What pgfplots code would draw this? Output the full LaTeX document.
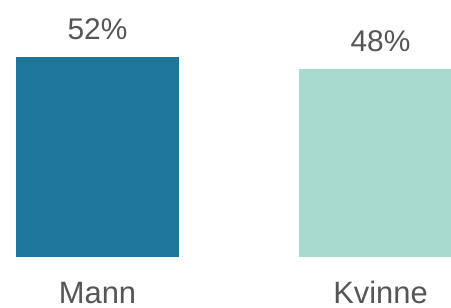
\documentclass[border=0pt]{standalone}
\usepackage{fontspec}
\setmainfont{Liberation Sans}
\usepackage{pgfplots}
\pgfplotsset{compat=1.18}
\definecolor{bardark}{HTML}{1D779D}
\definecolor{barlight}{HTML}{A8DAD0}
\definecolor{txt}{HTML}{555555}
\begin{document}
\begin{tikzpicture}
\begin{axis}[
  scale only axis,
  width=451bp, height=308bp,
  xmin=-0.3445, xmax=1.249,
  ymin=-13.16, ymax=66.31,
  hide axis,
  clip=true,
  /pgf/number format/assume math mode=true,
  ybar, bar width=0.576, /pgf/bar shift=0pt,
  nodes near coords={\pgfmathprintnumber[fixed,precision=0,assume math mode=true]{\pgfplotspointmeta}\%},
  nodes near coords style={anchor=base, yshift=18bp, font=\fontsize{30}{36}\selectfont, text=txt},
]
\addplot[draw=none, fill=bardark] coordinates {(0,51.6)};
\addplot[draw=none, fill=barlight] coordinates {(1,48.4)};
\node[anchor=base, font=\fontsize{31}{37}\selectfont, text=txt] at (axis cs:0,-11.87) {Mann};
\node[anchor=base, font=\fontsize{31}{37}\selectfont, text=txt] at (axis cs:1,-11.87) {Kvinne};
\end{axis}
\pgfresetboundingbox
\path[use as bounding box] (current axis.south west) rectangle (current axis.north east);
\end{tikzpicture}
\end{document}
